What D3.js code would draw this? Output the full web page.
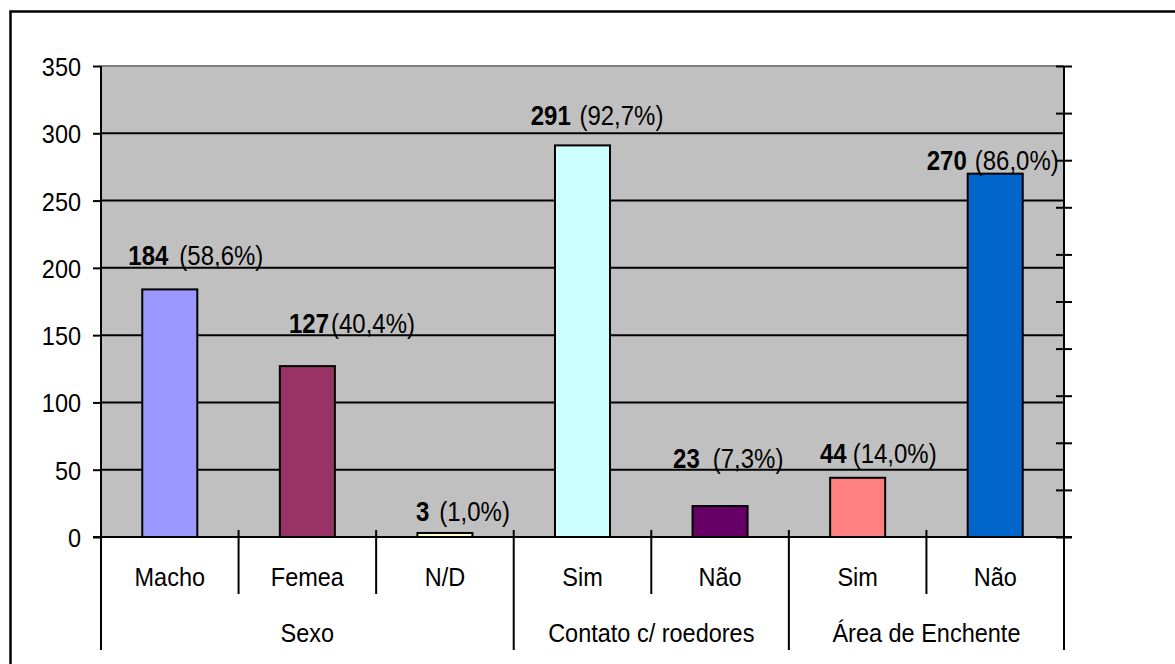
<!DOCTYPE html>
<html><head><meta charset="utf-8">
<script src="https://cdn.jsdelivr.net/npm/d3@7/dist/d3.min.js"></script>
<style>
html,body{margin:0;padding:0;background:#fff;}
svg{display:block;font-family:"Liberation Sans",Arial,sans-serif;}
</style></head>
<body>
<svg id="chart" width="1175" height="664"></svg>
<script>
// ---- data ----
const categories = ["Macho", "Femea", "N/D", "Sim", "Não", "Sim", "Não"];
const groupNames = ["Sexo", "Contato c/ roedores", "Área de Enchente"];
const groupSizes = [3, 2, 2];
const values = [184, 127, 3, 291, 23, 44, 270];
const percents = ["(58,6%)", "(40,4%)", "(1,0%)", "(92,7%)", "(7,3%)", "(14,0%)", "(86,0%)"];
const yTicks = [0, 50, 100, 150, 200, 250, 300, 350];
const rightTicks = [0, 10, 20, 30, 40, 50, 60, 70, 80, 90, 100];

// ---- styles / layout ----
const barColors = ["#9999FF", "#993366", "#FFFFCC", "#CCFFFF", "#660066", "#FF8080", "#0066CC"];
// manual label nudges (px) relative to bar centre / bar top, as placed in the original
const labelDx = [-41.5, -18.4, -29, -51.8, -47, -37.7, -68.5];
const labelDy = [-24.4, -33, -12, -20.4, -38, -15, -3.7];
const labelGap = [11, 2, 10, 8.7, 13, 6, 8];

const svg = d3.select("#chart");
const L = 101, R = 1064, T = 66, B = 537;
const SY = 1.12;

// outer frame
svg.append("rect").attr("x", 10.5).attr("y", 11.5).attr("width", 1300).attr("height", 800)
  .attr("fill", "none").attr("stroke", "#000").attr("stroke-width", 2.5);

const y = d3.scaleLinear().domain([0, 350]).range([B, T]);
const y2 = d3.scaleLinear().domain([0, 100]).range([B, T]);
const x = d3.scaleBand().domain(d3.range(categories.length)).range([L, R])
  .paddingInner(0.6).paddingOuter(0.3);
const step = x.step();
const x0 = L;

// plot area
svg.append("rect").attr("x", L).attr("y", T).attr("width", R - L).attr("height", B - T)
  .attr("fill", "#C0C0C0");
svg.append("line").attr("x1", L).attr("x2", R).attr("y1", T).attr("y2", T)
  .attr("stroke", "#808080").attr("stroke-width", 2);

// gridlines
svg.append("g").selectAll("line").data(yTicks.filter(v => v > 0 && v < 350)).join("line")
  .attr("x1", L).attr("x2", R).attr("y1", d => y(d)).attr("y2", d => y(d))
  .attr("stroke", "#000").attr("stroke-width", 2);

// bars
svg.append("g").selectAll("rect").data(values).join("rect")
  .attr("x", (d, i) => x(i)).attr("width", x.bandwidth())
  .attr("y", d => y(d)).attr("height", d => y(0) - y(d))
  .attr("fill", (d, i) => barColors[i]).attr("stroke", "#000").attr("stroke-width", 2);

// left axis
const yAxis = d3.axisLeft(y).tickValues(yTicks).tickSize(8).tickSizeOuter(0).tickPadding(12);
const gy = svg.append("g").attr("transform", `translate(${L},0)`).call(yAxis);
gy.select(".domain").remove();
gy.selectAll(".tick line").attr("stroke", "#000").attr("stroke-width", 2);
gy.selectAll(".tick text").attr("fill", "#000").attr("font-size", 23.5)
  .attr("font-family", "'Liberation Sans',Arial,sans-serif")
  .attr("dy", "0.36em").attr("transform", `scale(1,${SY})`);

// right axis (secondary, unlabeled ticks)
const y2Axis = d3.axisRight(y2).tickValues(rightTicks).tickSize(8).tickSizeOuter(0).tickFormat("");
const gy2 = svg.append("g").attr("transform", `translate(${R},0)`).call(y2Axis);
gy2.select(".domain").remove();
gy2.selectAll(".tick line").attr("x1", -8).attr("x2", 8).attr("stroke", "#000").attr("stroke-width", 2);

// axis lines
svg.append("line").attr("x1", L).attr("x2", L).attr("y1", T).attr("y2", 650)
  .attr("stroke", "#000").attr("stroke-width", 2);
svg.append("line").attr("x1", R).attr("x2", R).attr("y1", T).attr("y2", 650)
  .attr("stroke", "#000").attr("stroke-width", 2);
svg.append("line").attr("x1", L - 8).attr("x2", R + 8).attr("y1", B).attr("y2", B)
  .attr("stroke", "#000").attr("stroke-width", 2);

// category separators
const groupStarts = [];
let acc = 0;
groupSizes.forEach(s => { groupStarts.push(acc); acc += s; });
const sepG = svg.append("g").attr("stroke", "#000").attr("stroke-width", 2);
for (let i = 1; i < categories.length; i++) {
  const isGroup = groupStarts.includes(i);
  sepG.append("line").attr("x1", x0 + i * step).attr("x2", x0 + i * step)
    .attr("y1", B - 7).attr("y2", isGroup ? 650 : 594);
}

function stretchedText(parent, tx, ty, str, opts) {
  const g = parent.append("g").attr("transform", `translate(${tx},${ty}) scale(1,${SY})`);
  const t = g.append("text").attr("x", 0).attr("y", 0).attr("fill", "#000")
    .attr("font-size", opts.size || 23.5).attr("text-anchor", opts.anchor || "middle")
    .text(str);
  if (opts.weight) t.attr("font-weight", opts.weight);
  return t;
}

// category labels
const catG = svg.append("g");
categories.forEach((c, i) => {
  stretchedText(catG, x(i) + x.bandwidth() / 2, 586, c, {});
});
groupNames.forEach((gname, k) => {
  const start = x0 + groupStarts[k] * step;
  const end = start + groupSizes[k] * step;
  stretchedText(catG, (start + end) / 2, 641.5, gname, {});
});

// bar value labels
const labG = svg.append("g");
values.forEach((v, i) => {
  const cx = x(i) + x.bandwidth() / 2;
  const bx = cx + labelDx[i];
  const by = y(v) + labelDy[i];
  const num = stretchedText(labG, bx, by, String(v), { size: 24, anchor: "start", weight: "bold" });
  const w = num.node().getComputedTextLength();
  stretchedText(labG, bx + w + labelGap[i], by, percents[i], { size: 24, anchor: "start" });
});
</script>
</body></html>
